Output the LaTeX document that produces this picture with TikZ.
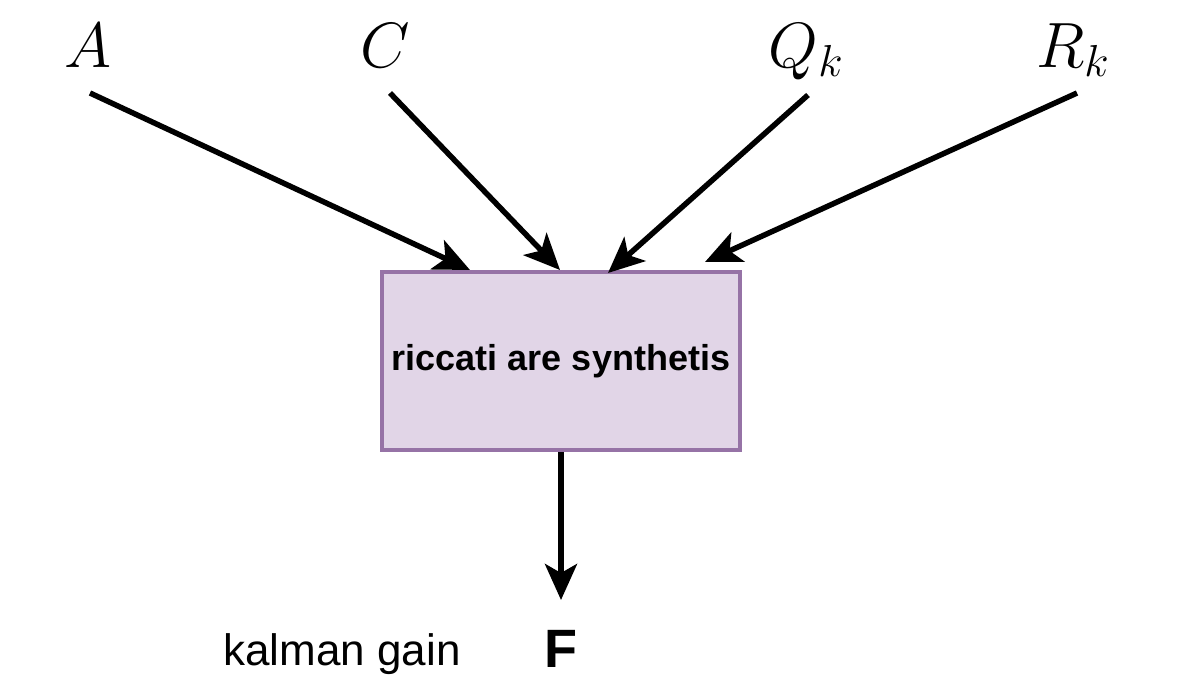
\RequirePackage{fix-cm}
\documentclass[tikz,border=0pt]{standalone}
\usepackage{fontspec}
\setmainfont{Liberation Sans}
\usetikzlibrary{arrows.meta}
\definecolor{boxfill}{HTML}{E1D5E7}
\definecolor{boxline}{HTML}{9673A6}
\tikzset{
  arr/.style={line width=5.5pt, -{Stealth[length=36pt,width=32pt,inset=9pt]}},
  procbox/.style={draw=boxline, fill=boxfill, line width=4.5pt, minimum width=358pt, minimum height=178pt, inner sep=0pt,
    font=\fontsize{36}{40}\selectfont\bfseries},
  mathlbl/.style={anchor=base, inner sep=0pt, font=\fontsize{64}{70}\selectfont},
  txtlbl/.style={anchor=base, inner sep=0pt}
}
\begin{document}
\begin{tikzpicture}[x=1pt,y=-1pt]
\useasboundingbox (0,0) rectangle (1203,693);
\node[procbox] (box) at (561,361) {\raisebox{-2pt}{riccati are synthetis}};
\node[mathlbl] (A) at (88,67) {$A$};
\node[mathlbl] (C) at (385,67) {$C$};
\node[mathlbl] (Q) at (806,67) {$Q_k$};
\node[mathlbl] (R) at (1073,67) {$R_k$};
\node[txtlbl, font=\fontsize{44}{48}\selectfont] (kg) at (342,665) {kalman gain};
\node[txtlbl, font=\fontsize{54}{58}\selectfont\bfseries] (F) at (561,667) {F};
\coordinate (sA) at (90,93);
\coordinate (sC) at (390,93);
\coordinate (sQ) at (808,95);
\coordinate (sR) at (1077,93);
\coordinate (eA) at (470,270);
\coordinate (eC) at (560,270);
\coordinate (eQ) at (608,273);
\coordinate (eR) at (705,262);
\coordinate (eF) at (561,600);
\draw[arr] (sA) -- (eA);
\draw[arr] (sC) -- (eC);
\draw[arr] (sQ) -- (eQ);
\draw[arr] (sR) -- (eR);
\draw[arr] (box.south) -- (eF);
\end{tikzpicture}
\end{document}
